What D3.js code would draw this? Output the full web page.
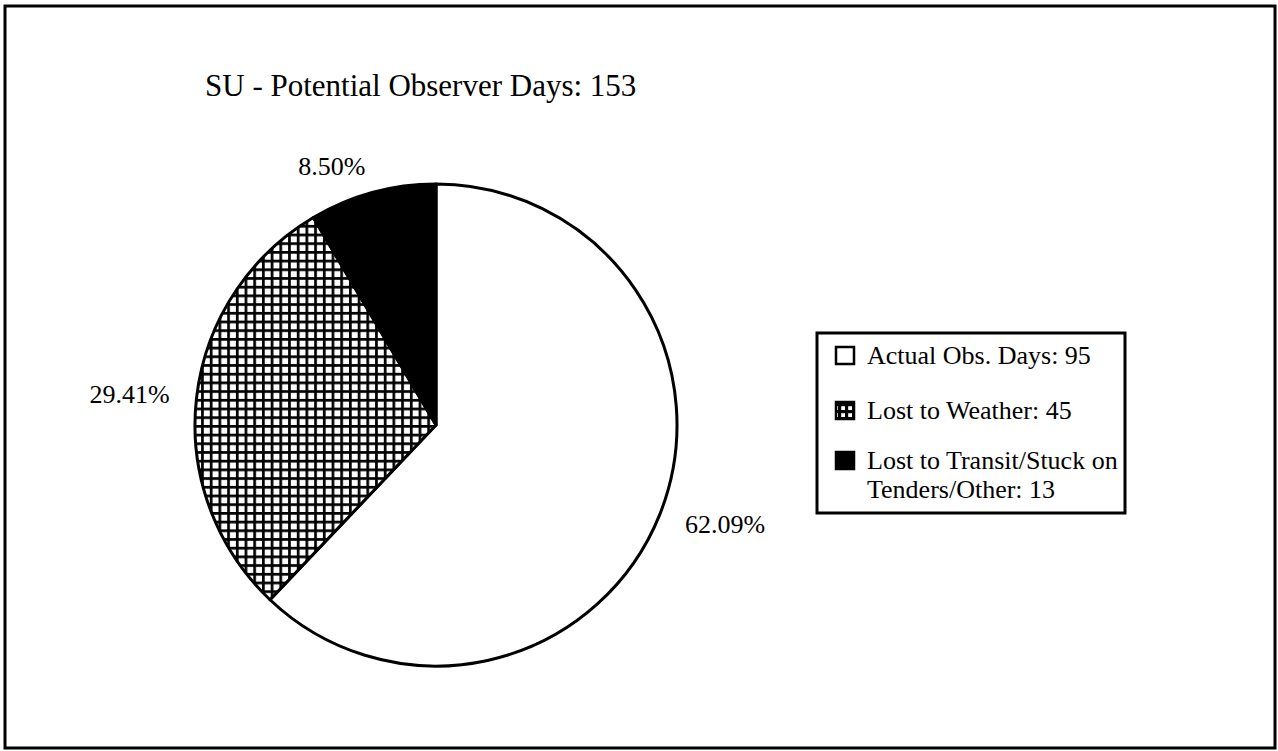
<!DOCTYPE html>
<html>
<head>
<meta charset="utf-8">
<script src="https://cdn.jsdelivr.net/npm/d3@7"></script>
<style>
  html, body { margin: 0; padding: 0; background: #fff; }
  svg { display: block; font-family: "Liberation Serif", "Times New Roman", serif; }
</style>
</head>
<body>
<svg id="chart" width="1278" height="751"></svg>
<script>
// ---- data ----
const title = "SU - Potential Observer Days: 153";
const categories = ["Actual Obs. Days", "Lost to Weather", "Lost to Transit/Stuck on Tenders/Other"];
const values = [95, 45, 13];
const percentLabels = ["62.09%", "29.41%", "8.50%"];
const legendLines = [["Actual Obs. Days: 95"], ["Lost to Weather: 45"], ["Lost to Transit/Stuck on", "Tenders/Other: 13"]];
const fills = ["white", "url(#hatch)", "black"];
const legendFills = ["white", "url(#hatchIcon)", "black"];

const svg = d3.select("#chart");
const defs = svg.append("defs");
function makeHatch(id, size, line) {
  const p = defs.append("pattern").attr("id", id)
    .attr("patternUnits", "userSpaceOnUse").attr("width", size).attr("height", size);
  p.append("rect").attr("width", size).attr("height", size).attr("fill", "white");
  p.append("rect").attr("width", line).attr("height", size).attr("fill", "black");
  p.append("rect").attr("width", size).attr("height", line).attr("fill", "black");
}
makeHatch("hatch", 8.7, 2.7);
makeHatch("hatchIcon", 7, 3.2);

// outer frame
svg.append("rect").attr("x", 5).attr("y", 6).attr("width", 1270).attr("height", 742)
  .attr("fill", "none").attr("stroke", "black").attr("stroke-width", 3);

// title
svg.append("text").attr("x", 205).attr("y", 96).attr("font-size", 31).attr("fill", "black").text(title);

// pie
const cx = 436, cy = 425, r = 241;
const pie = d3.pie().sort(null).value(d => d)(values);
const arc = d3.arc().innerRadius(0).outerRadius(r);
const g = svg.append("g").attr("transform", `translate(${cx},${cy})`);
g.selectAll("path.slice").data(pie).join("path").attr("class", "slice")
  .attr("d", arc).attr("fill", (d, i) => fills[i])
  .attr("stroke", "black").attr("stroke-width", 3).attr("stroke-linejoin", "round");

// labels
const labelArc = d3.arc().innerRadius(268).outerRadius(268);
g.selectAll("text.lbl").data(pie).join("text").attr("class", "lbl")
  .each(function(d, i) {
    const mid = (d.startAngle + d.endAngle) / 2;
    const [x, y] = labelArc.centroid(d);
    d3.select(this).attr("x", x).attr("y", y).attr("dy", "0.32em")
      .attr("text-anchor", Math.sin(mid) < 0 ? "end" : "start")
      .attr("font-size", 26).text(percentLabels[i]);
  });

// legend
const lg = svg.append("g").attr("transform", "translate(817,333)");
lg.append("rect").attr("width", 308).attr("height", 180).attr("fill", "white")
  .attr("stroke", "black").attr("stroke-width", 3);
const rowY = [31, 86, 136];
categories.forEach((c, i) => {
  lg.append("rect").attr("x", 19).attr("y", rowY[i] - 17).attr("width", 18).attr("height", 17)
    .attr("fill", legendFills[i]).attr("stroke", "black").attr("stroke-width", 2.5);
  legendLines[i].forEach((t, j) => {
    lg.append("text").attr("x", 50).attr("y", rowY[i] + j * 29).attr("font-size", 26).text(t);
  });
});
</script>
</body>
</html>
